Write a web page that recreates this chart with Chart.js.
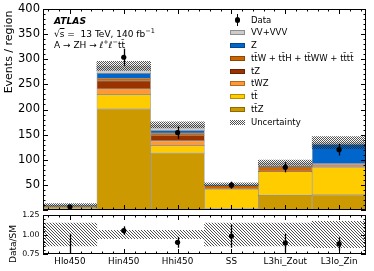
<!DOCTYPE html>
<html>
<head>
<meta charset="utf-8">
<script src="https://cdn.jsdelivr.net/npm/chart.js@4.4.1/dist/chart.umd.min.js"></script>
<style>
  body { margin: 0; background: #fff; font-family: "DejaVu Sans", sans-serif; }
  #wrap { position: relative; width: 374px; height: 271px; overflow: hidden; }
  #main { position: absolute; left: 0; top: 0; }
  #ratio { position: absolute; left: 0; top: 200px; }
  .txt { position: absolute; white-space: nowrap; color: #000; line-height: 1; }
  .sw { position: absolute; width: 15px; height: 5px; box-sizing: border-box; border: 1px solid rgba(0,0,0,0.3); }
  .vtitle { position: absolute; white-space: nowrap; transform: translate(-50%, -50%) rotate(-90deg); line-height: 1; }
</style>
</head>
<body>
<div id="wrap">
  <canvas id="main" width="374" height="214"></canvas>
  <canvas id="ratio" width="374" height="71"></canvas>
  <div class="vtitle" style="left:8px;top:52px;font-size:11px">Events / region</div>
  <div class="vtitle" style="left:13px;top:244px;font-size:9px">Data/SM</div>
  <div class="txt" style="left:54px;top:16px;font-size:9.2px;font-weight:bold;font-style:italic">ATLAS</div>
  <div class="txt" style="left:54px;top:27.5px;font-size:9px">√<span style="text-decoration:overline">s</span> =&nbsp; 13 TeV, 140 fb<sup style="font-size:6.5px">−1</sup></div>
  <div class="txt" style="left:54px;top:39px;font-size:9px">A → ZH → <i>ℓ</i><sup style="font-size:6.5px">+</sup><i>ℓ</i><sup style="font-size:6.5px">−</sup>tt̄</div>
  <div id="legend"></div>
</div>
<script>
const regions = ['Hlo450', 'Hin450', 'Hhi450', 'SS', 'L3hi_Zout', 'L3lo_Zin'];

// stacked backgrounds, bottom to top
const ttZ   = [4, 201, 113, 3, 29, 30];
const ttbar = [0.8, 29, 15, 38.5, 47.5, 55];
const tWZ   = [0.3, 11, 10, 0.3, 0.3, 1];
const tZ    = [0.4, 16, 10.5, 0.5, 0.5, 3];
const ttW   = [0.6, 5, 4.5, 6.5, 9, 3];
const Zbkg  = [3, 10, 5, 0.2, 0.7, 39];
const VV    = [1.2, 15, 11.5, 2, 7, 3];
const mcUnc = [2.5, 9, 6, 3, 5.5, 12];

const data    = [6.5, 304, 154, 49.5, 85, 120];
const dataErr = [4, 17, 12.5, 7, 10, 11.5];

const ratio     = [0.63, 1.05, 0.90, 0.98, 0.89, 0.88];
const ratioErr  = [0.38, 0.055, 0.07, 0.15, 0.12, 0.085];
const ratioBand = [0.145, 0.055, 0.055, 0.145, 0.145, 0.17];

const yTicks = [0, 50, 100, 150, 200, 250, 300, 350, 400];
const ratioTicks = [0.75, 1.0, 1.25];

Chart.defaults.font.family = 'DejaVu Sans';
Chart.defaults.color = '#000';

const stack = [
  {label: 't\u0074\u0304Z', data: ttZ, color: '#cc9a00'},
  {label: 't\u0074\u0304', data: ttbar, color: '#ffcc00'},
  {label: 'tWZ', data: tWZ, color: '#ff9933'},
  {label: 'tZ', data: tZ, color: '#993300'},
  {label: 'tt\u0304W + tt\u0304H + tt\u0304WW + tt\u0304tt\u0304', data: ttW, color: '#cc6600'},
  {label: 'Z', data: Zbkg, color: '#0066cc'},
  {label: 'VV+VVV', data: VV, color: '#cccccc'}
];
const total = regions.map((r, i) => stack.reduce((s, d) => s + d.data[i], 0));

function patternCanvas(size, draw) {
  const c = document.createElement('canvas');
  c.width = c.height = size;
  draw(c.getContext('2d'));
  return c;
}
const checker = patternCanvas(2, g => {
  g.fillStyle = 'rgba(40,40,40,0.8)';
  g.fillRect(0, 0, 1, 1);
  g.fillRect(1, 1, 1, 1);
});
const diag = patternCanvas(3, g => {
  g.fillStyle = 'rgba(50,50,50,0.85)';
  for (let i = 0; i < 3; i++) g.fillRect(i, i, 1, 1);
});

// inward ticks and box around the plot
const frame = {
  id: 'frame',
  afterDraw(chart, args, o) {
    const {ctx, chartArea: a} = chart;
    const y = chart.scales.y, x = chart.scales.x;
    ctx.save();
    ctx.strokeStyle = '#000';
    ctx.lineWidth = 1;
    ctx.beginPath();
    const n = Math.round((o.max - o.min) / o.minor);
    for (let k = 0; k <= n; k++) {
      const v = o.min + k * o.minor;
      const major = Math.abs(v / o.major - Math.round(v / o.major)) < 1e-6;
      const len = major ? 5 : 2.5;
      const p = Math.round(y.getPixelForValue(v)) + 0.5;
      ctx.moveTo(a.left, p); ctx.lineTo(a.left + len, p);
      ctx.moveTo(a.right, p); ctx.lineTo(a.right - len, p);
    }
    const w = x.getPixelForValue(1) - x.getPixelForValue(0);
    for (let i = 0; i < regions.length; i++) {
      for (const d of [-0.4, -0.2, 0, 0.2, 0.4]) {
        const len = d === 0 ? 5 : 2.5;
        const p = Math.round(x.getPixelForValue(i) + d * w) + 0.5;
        ctx.moveTo(p, a.bottom); ctx.lineTo(p, a.bottom - len);
        ctx.moveTo(p, a.top); ctx.lineTo(p, a.top + len);
      }
    }
    ctx.stroke();
    ctx.strokeRect(Math.round(a.left) + 0.5, Math.round(a.top) + 0.5,
                   Math.round(a.width) - 1, Math.round(a.height) - 1);
    ctx.restore();
  }
};

// vertical error bars on the data points
const errorBars = {
  id: 'errorBars',
  afterDatasetsDraw(chart) {
    const {ctx, chartArea: a} = chart;
    ctx.save();
    ctx.beginPath();
    ctx.rect(a.left, a.top, a.width, a.height);
    ctx.clip();
    ctx.strokeStyle = '#000';
    ctx.lineWidth = 1.3;
    chart.data.datasets.forEach((ds, di) => {
      if (!ds.errors) return;
      const meta = chart.getDatasetMeta(di);
      const ys = chart.scales[meta.yAxisID];
      ds.data.forEach((v, i) => {
        const px = Math.round(chart.scales.x.getPixelForValue(i)) + 0.5;
        ctx.beginPath();
        ctx.moveTo(px, ys.getPixelForValue(v + ds.errors[i]));
        ctx.lineTo(px, ys.getPixelForValue(v - ds.errors[i]));
        ctx.stroke();
      });
    });
    ctx.restore();
  }
};

const mainCtx = document.getElementById('main').getContext('2d');
const ratioCtx = document.getElementById('ratio').getContext('2d');

const barDatasets = stack.map(s => ({
  type: 'bar',
  label: s.label,
  data: s.data,
  backgroundColor: s.color,
  borderColor: 'rgba(0,0,0,0.3)',
  borderWidth: 0.8,
  borderSkipped: false,
  categoryPercentage: 1,
  barPercentage: 1,
  order: 2
}));

new Chart(mainCtx, {
  data: {
    labels: regions,
    datasets: [
      ...barDatasets,
      {
        type: 'bar',
        label: 'Uncertainty',
        data: regions.map((r, i) => [total[i] - mcUnc[i], total[i] + mcUnc[i]]),
        backgroundColor: mainCtx.createPattern(checker, 'repeat'),
        borderWidth: 0,
        grouped: false,
        categoryPercentage: 1,
        barPercentage: 1,
        yAxisID: 'yu',
        order: 1
      },
      {
        type: 'line',
        label: 'Data',
        data: data,
        errors: dataErr,
        showLine: false,
        pointRadius: 2.6,
        pointBackgroundColor: '#000',
        pointBorderWidth: 0,
        yAxisID: 'yu',
        order: 0
      }
    ]
  },
  options: {
    responsive: false,
    animation: false,
    events: [],
    layout: {padding: {top: 9, right: 8, bottom: 0, left: 0}},
    plugins: {
      legend: {display: false},
      tooltip: {enabled: false},
      frame: {min: 0, max: 400, major: 50, minor: 10}
    },
    scales: {
      x: {type: 'category', display: false, stacked: true},
      y: {
        min: 0, max: 400, stacked: true,
        afterBuildTicks: s => { s.ticks = yTicks.map(v => ({value: v})); },
        ticks: {
          font: {size: 11.5}, padding: 3,
          callback: v => v === 0 ? '' : String(v)
        },
        grid: {display: false, drawTicks: false},
        border: {display: false},
        afterFit: s => { s.width = 43; s.paddingTop = 0; s.paddingBottom = 0; }
      },
      yu: {display: false, min: 0, max: 400, stacked: false}
    }
  },
  plugins: [frame, errorBars]
});

new Chart(ratioCtx, {
  data: {
    labels: regions,
    datasets: [
      {
        type: 'bar',
        label: 'Uncertainty',
        data: regions.map((r, i) => [1 - ratioBand[i], 1 + ratioBand[i]]),
        backgroundColor: ratioCtx.createPattern(diag, 'repeat'),
        borderWidth: 0,
        categoryPercentage: 1,
        barPercentage: 1,
        order: 1
      },
      {
        type: 'line',
        label: 'Data/SM',
        data: ratio,
        errors: ratioErr,
        showLine: false,
        pointRadius: 2.6,
        pointBackgroundColor: '#000',
        pointBorderWidth: 0,
        order: 0
      }
    ]
  },
  options: {
    responsive: false,
    animation: false,
    events: [],
    layout: {padding: {top: 15, right: 8, bottom: 0, left: 0}},
    plugins: {
      legend: {display: false},
      tooltip: {enabled: false},
      frame: {min: 0.75, max: 1.25, major: 0.25, minor: 0.05}
    },
    scales: {
      x: {
        type: 'category',
        ticks: {font: {size: 8.8}, padding: 2, maxRotation: 0, autoSkip: false},
        grid: {display: false, drawTicks: false},
        border: {display: false},
        afterFit: s => { s.height = 17; s.paddingLeft = 0; s.paddingRight = 0; }
      },
      y: {
        min: 0.75, max: 1.25,
        afterBuildTicks: s => { s.ticks = ratioTicks.map(v => ({value: v})); },
        ticks: {font: {size: 7.8}, padding: 3.5, callback: v => Number(v).toFixed(2)},
        grid: {display: false, drawTicks: false},
        border: {display: false},
        afterFit: s => { s.width = 43; s.paddingTop = 0; s.paddingBottom = 0; }
      }
    }
  },
  plugins: [frame, errorBars]
});

// legend drawn as html text
const legend = document.getElementById('legend');
const entries = [{label: 'Data', kind: 'data'}]
  .concat(stack.slice().reverse().map(s => ({label: s.label, color: s.color})))
  .concat([{label: 'Uncertainty', kind: 'unc'}]);
entries.forEach((e, i) => {
  const cy = 20 + i * 12.75;
  if (e.kind === 'data') {
    legend.insertAdjacentHTML('beforeend',
      `<div style="position:absolute;left:237px;top:${cy - 6}px;width:1.3px;height:12px;background:#000"></div>` +
      `<div style="position:absolute;left:235.2px;top:${cy - 2.6}px;width:5.2px;height:5.2px;border-radius:50%;background:#000"></div>`);
  } else if (e.kind === 'unc') {
    legend.insertAdjacentHTML('beforeend',
      `<div class="sw" style="left:229.5px;top:${cy - 2.5}px;border:none;background-image:url(${checker.toDataURL()})"></div>`);
  } else {
    legend.insertAdjacentHTML('beforeend',
      `<div class="sw" style="left:229.5px;top:${cy - 2.5}px;background:${e.color}"></div>`);
  }
  legend.insertAdjacentHTML('beforeend',
    `<div class="txt" style="left:251px;top:${cy - 4.5}px;font-size:8.5px">${e.label}</div>`);
});
</script>
</body>
</html>
